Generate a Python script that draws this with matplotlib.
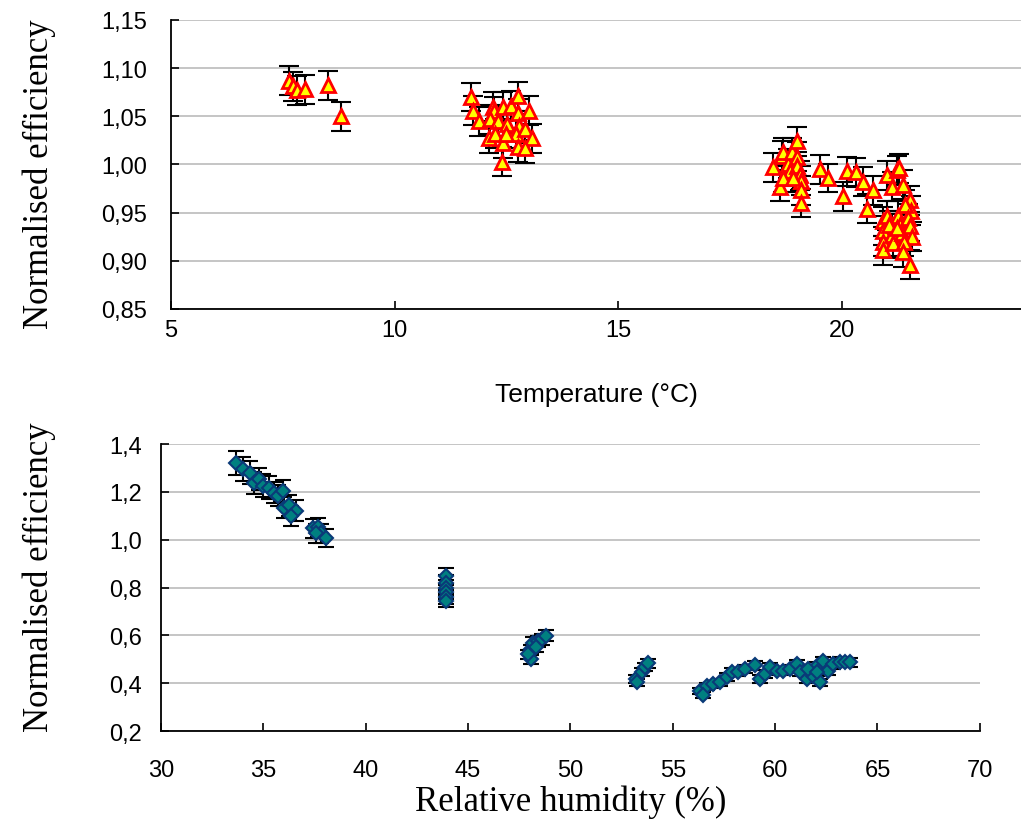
import numpy as np
import matplotlib
matplotlib.use("Agg")
import matplotlib.pyplot as plt
from matplotlib.ticker import FuncFormatter

# ---- top panel: efficiency vs temperature ----
temp = [7.63, 7.72, 7.81, 8.0, 8.5, 8.79,
        11.7, 11.74, 11.88, 12.1, 12.19, 12.21, 12.12, 12.3, 12.41, 12.41,
        12.39, 12.5, 12.59, 12.75, 12.75, 12.77, 12.72, 12.75, 12.92, 13.0,
        13.08, 12.92, 12.25, 12.48,
        18.46, 18.62, 18.66, 18.68, 18.8, 18.84, 18.68, 18.88, 18.99, 18.99,
        18.99, 19.06, 19.08, 19.08, 19.08, 18.9,
        19.51, 19.69, 20.02, 20.11, 20.31, 20.47, 20.69, 20.56,
        21.0, 21.12, 21.23, 21.27, 21.36, 21.52, 21.54, 20.92, 20.92, 20.92,
        20.92, 21.0, 21.12, 21.14, 21.25, 21.29, 21.34, 21.41, 21.47, 21.52,
        21.56, 21.38, 21.36, 21.52, 21.05, 21.23]
eff_t = [1.087, 1.081, 1.077, 1.078, 1.082, 1.050,
         1.070, 1.056, 1.045, 1.027, 1.060, 1.055, 1.047, 1.045, 1.060, 1.022,
         1.003, 1.042, 1.061, 1.071, 1.053, 1.040, 1.032, 1.018, 1.037, 1.056,
         1.027, 1.017, 1.032, 1.032,
         0.997, 0.977, 1.009, 1.013, 1.001, 0.993, 0.986, 1.013, 1.024, 1.008,
         0.998, 0.989, 0.983, 0.973, 0.960, 0.986,
         0.995, 0.986, 0.967, 0.993, 0.992, 0.982, 0.973, 0.954,
         0.989, 0.977, 0.994, 0.996, 0.979, 0.963, 0.952, 0.941, 0.931, 0.920,
         0.911, 0.947, 0.927, 0.918, 0.947, 0.937, 0.929, 0.958, 0.944, 0.936,
         0.925, 0.920, 0.909, 0.896, 0.937, 0.934]
err_t = 0.015

# ---- bottom panel: efficiency vs relative humidity ----
rh = [33.66, 34.0, 34.34, 34.54, 34.78, 34.98, 35.27, 35.51, 35.71, 35.95,
      36.0, 36.24, 36.59, 36.34, 37.41, 37.66, 37.8, 38.05, 37.56,
      43.9, 43.9, 43.9, 43.9, 43.9, 43.9,
      48.05, 48.05, 48.15, 48.4, 48.6, 48.8, 48.3, 47.95,
      53.2, 53.27, 53.5, 53.66, 53.8,
      56.34, 56.68, 56.98, 57.32, 57.66, 57.9, 58.2, 58.54, 59.02, 59.27,
      59.51, 59.76, 60.1, 60.39, 60.73, 61.07, 61.22, 61.56, 61.85, 62.05,
      62.34, 62.59, 62.83, 63.17, 63.41, 63.66, 61.61, 62.2, 62.05, 56.5]
eff_h = [1.321, 1.296, 1.280, 1.238, 1.254, 1.226, 1.218, 1.197, 1.184, 1.205,
         1.134, 1.143, 1.122, 1.101, 1.047, 1.051, 1.027, 1.006, 1.027,
         0.848, 0.820, 0.800, 0.780, 0.760, 0.745,
         0.500, 0.541, 0.570, 0.575, 0.583, 0.599, 0.550, 0.520,
         0.418, 0.404, 0.446, 0.467, 0.483,
         0.367, 0.388, 0.396, 0.404, 0.425, 0.446, 0.446, 0.458, 0.475, 0.417,
         0.437, 0.466, 0.450, 0.450, 0.458, 0.479, 0.446, 0.417, 0.429, 0.470,
         0.491, 0.450, 0.479, 0.490, 0.487, 0.487, 0.458, 0.404, 0.446, 0.350]
rel_err_h = 0.038

comma = FuncFormatter(lambda v, p: f"{v:.2f}".replace(".", ","))
comma1 = FuncFormatter(lambda v, p: f"{v:.1f}".replace(".", ","))

fig = plt.figure(figsize=(10.21, 8.2), dpi=100)
serif = "Liberation Serif"
sans = "Liberation Sans"

def style(ax):
    for s in ["top", "right"]:
        ax.spines[s].set_visible(False)
    for s in ["left", "bottom"]:
        ax.spines[s].set_linewidth(1.3)
    ax.grid(axis="y", color="#c0c0c0", linewidth=1.3)
    ax.set_axisbelow(True)
    ax.tick_params(direction="in", length=6, width=1.2, labelsize=17)
    ax.tick_params(axis="y", pad=17)
    for lab in ax.get_xticklabels() + ax.get_yticklabels():
        lab.set_family(sans)

ax1 = fig.add_axes([0.1675, 0.622, 0.8325, 0.3524])
ax1.errorbar(temp, eff_t, yerr=err_t, fmt="none", ecolor="black",
             elinewidth=1.5, capsize=7, capthick=1.5, zorder=2)
ax1.plot(temp, eff_t, linestyle="none", marker="^", ms=10, mfc="yellow",
         mec="red", mew=2, zorder=3)
ax1.set_xlim(5, 24)
ax1.set_ylim(0.85, 1.15)
ax1.set_xticks([5, 10, 15, 20])
ax1.set_yticks(np.arange(0.85, 1.151, 0.05))
ax1.yaxis.set_major_formatter(comma)
style(ax1)
ax1.tick_params(axis="x", pad=7)
ax1.set_xlabel("Temperature (°C)", family=sans, fontsize=19, labelpad=30)
ax1.set_ylabel("Normalised efficiency", family=serif, fontsize=25,
               labelpad=33, y=0.47)

ax2 = fig.add_axes([0.1577, 0.1073, 0.802, 0.35])
yerr_h = [rel_err_h * v for v in eff_h]
ax2.errorbar(rh, eff_h, yerr=yerr_h, fmt="none", ecolor="black",
             elinewidth=1.5, capsize=6, capthick=1.5, zorder=2)
ax2.plot(rh, eff_h, linestyle="none", marker="D", ms=7, mfc="#008080",
         mec="#0a3a78", mew=1.5, zorder=3)
ax2.set_xlim(30, 70)
ax2.set_ylim(0.2, 1.4)
ax2.set_xticks(np.arange(30, 71, 5))
ax2.set_yticks(np.arange(0.2, 1.41, 0.2))
ax2.yaxis.set_major_formatter(comma1)
style(ax2)
ax2.tick_params(axis="y", pad=14)
ax2.tick_params(axis="x", pad=20)
ax2.set_xlabel("Relative humidity (%)", family=serif, fontsize=25, labelpad=3)
ax2.set_ylabel("Normalised efficiency", family=serif, fontsize=25,
               labelpad=38, y=0.54)

fig.savefig("out.png", dpi=100)
